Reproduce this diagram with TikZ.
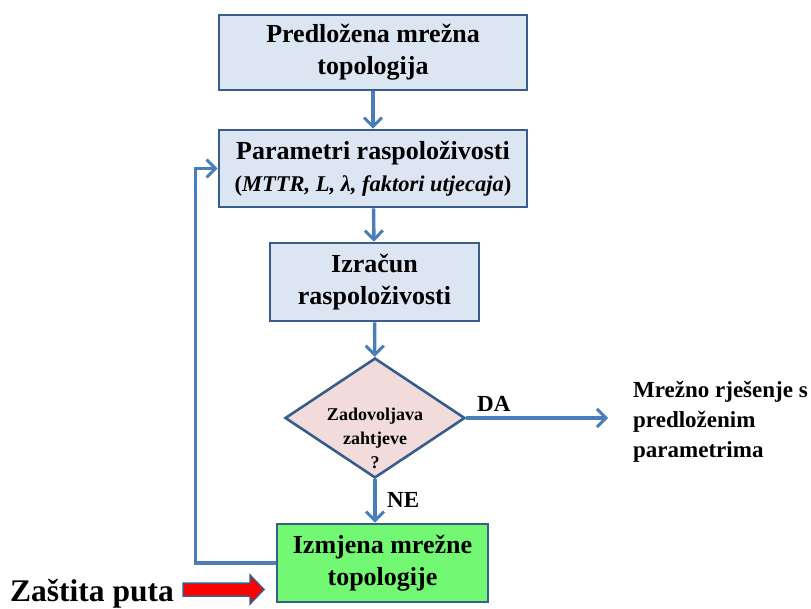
\documentclass[tikz,border=0pt]{standalone}
\usepackage{fontspec}
\setmainfont{Liberation Serif}
\usetikzlibrary{arrows.meta,shapes.geometric}
\definecolor{boxfill}{HTML}{DCE6F2}
\definecolor{boxline}{HTML}{385D8A}
\definecolor{arrowblue}{HTML}{4A7EBB}
\definecolor{diafill}{HTML}{F2DCDB}
\definecolor{greenfill}{HTML}{72F872}
\begin{document}
\begin{tikzpicture}[x=1pt,y=1pt,
  box/.style={draw=boxline, line width=2.6pt, fill=boxfill, align=center, inner sep=0pt,
    font=\bfseries\fontsize{26}{32}\selectfont},
  flow/.style={draw=arrowblue, line width=3.4pt,
    -{Straight Barb[length=9pt,width=18pt,line width=3pt]}},
  lbl/.style={font=\bfseries\fontsize{23}{30}\selectfont, inner sep=0pt}]
\useasboundingbox (0,0) rectangle (811,608);
\node[box, minimum width=308, minimum height=75] (b1) at (373,555.5) {Predložena mrežna\\topologija};
\node[box, minimum width=308, minimum height=77] (b2) at (373,439.5) {Parametri raspoloživosti\\{\fontsize{22.5}{32}\selectfont(\textit{MTTR, L, λ, faktori utjecaja})}};
\node[box, minimum width=209, minimum height=78] (b3) at (374.5,326) {Izračun\\raspoloživosti};
\node[diamond, draw=boxline, line width=2.6pt, fill=diafill, minimum width=180, minimum height=120,
  inner sep=0pt, aspect=1.5] (d) at (375,190) {};
\node[align=center, inner sep=0pt, font=\bfseries\fontsize{18}{24}\selectfont] (dt) at (375,170) {Zadovoljava\\zahtjeve\\?};
\node[box, fill=greenfill, minimum width=211, minimum height=78] (b5) at (382.5,45) {Izmjena mrežne\\topologije};
\coordinate (daend) at (608,190);
\node[lbl, anchor=north west, align=left] (res) at (633,227) {Mrežno rješenje s\\predloženim\\parametrima};
\node[lbl, anchor=base west] (da) at (477,196) {DA};
\node[lbl, anchor=base west] (ne) at (387,100) {NE};
\node[font=\bfseries\fontsize{31.5}{36}\selectfont, inner sep=0pt, anchor=base west] (zp) at (10,7) {Zaštita puta};
\draw[flow] (b1) -- (b2);
\draw[flow] (b2) -- (b3);
\draw[flow] (b3) -- (d);
\draw[flow] (d.east) -- (daend);
\draw[flow] (d.south) -- (d.south |- b5.north);
\draw[flow] (b5.west) -- ++(-80,0) |- (b2.west);
\draw[draw=boxline, line width=1.5pt, fill=red, line join=miter]
  (183,25) -- (250,25) -- (250,33) -- (264,18.5) -- (250,4) -- (250,12) -- (183,12) -- cycle;
\end{tikzpicture}
\end{document}
